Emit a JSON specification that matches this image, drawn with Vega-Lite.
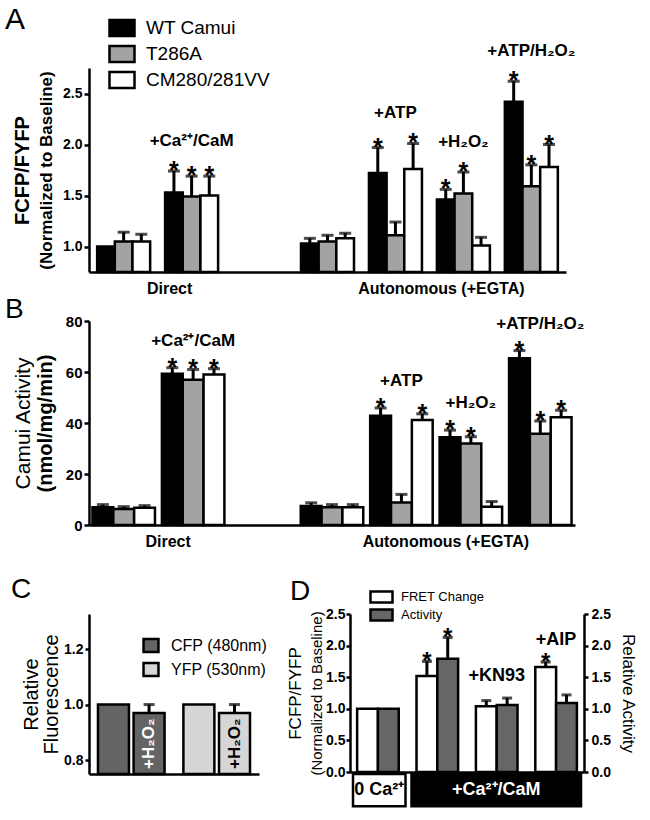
{
  "$schema": "https://vega.github.io/schema/vega-lite/v6.json",
  "background": "white",
  "padding": 5,
  "columns": 1,
  "align": "none",
  "spacing": 27,
  "resolve": {"scale": {"color": "independent", "xOffset": "independent"}},
  "concat": [
    {
      "vconcat": [
        {
          "width": 477,
          "height": 204,
          "title": {"text": "A", "fontSize": 30, "dx": -84, "offset": -16.5},
          "data": {"values": [
            {"cond": "Baseline", "series": "WT Camui", "value": 1.0, "hi": 1.0, "sig": false},
            {"cond": "Baseline", "series": "T286A", "value": 1.05, "hi": 1.14, "sig": false},
            {"cond": "Baseline", "series": "CM280/281VV", "value": 1.05, "hi": 1.12, "sig": false},
            {"cond": "+Ca²⁺/CaM", "series": "WT Camui", "value": 1.53, "hi": 1.74, "sig": true},
            {"cond": "+Ca²⁺/CaM", "series": "T286A", "value": 1.49, "hi": 1.69, "sig": true},
            {"cond": "+Ca²⁺/CaM", "series": "CM280/281VV", "value": 1.5, "hi": 1.69, "sig": true},
            {"cond": "EGTA baseline", "series": "WT Camui", "value": 1.03, "hi": 1.08, "sig": false},
            {"cond": "EGTA baseline", "series": "T286A", "value": 1.05, "hi": 1.11, "sig": false},
            {"cond": "EGTA baseline", "series": "CM280/281VV", "value": 1.08, "hi": 1.13, "sig": false},
            {"cond": "+ATP", "series": "WT Camui", "value": 1.72, "hi": 1.97, "sig": true},
            {"cond": "+ATP", "series": "T286A", "value": 1.11, "hi": 1.24, "sig": false},
            {"cond": "+ATP", "series": "CM280/281VV", "value": 1.76, "hi": 2.01, "sig": true},
            {"cond": "+H₂O₂", "series": "WT Camui", "value": 1.46, "hi": 1.56, "sig": true},
            {"cond": "+H₂O₂", "series": "T286A", "value": 1.52, "hi": 1.73, "sig": true},
            {"cond": "+H₂O₂", "series": "CM280/281VV", "value": 1.01, "hi": 1.09, "sig": false},
            {"cond": "+ATP/H₂O₂", "series": "WT Camui", "value": 2.42, "hi": 2.62, "sig": true},
            {"cond": "+ATP/H₂O₂", "series": "T286A", "value": 1.59, "hi": 1.8, "sig": true},
            {"cond": "+ATP/H₂O₂", "series": "CM280/281VV", "value": 1.78, "hi": 2.0, "sig": true}
          ]},
          "resolve": {"axis": {"y": "independent"}},
          "layer": [
            {
              "encoding": {
                "x": {"field": "cond", "type": "nominal", "title": null, "sort": null,
                  "scale": {"type": "band", "domain": ["Baseline", "+Ca²⁺/CaM", "gap", "EGTA baseline", "+ATP", "+H₂O₂", "+ATP/H₂O₂"], "paddingInner": 0.22, "paddingOuter": 0.12},
                  "axis": {"ticks": false, "labelExpr": "datum.value == '+Ca²⁺/CaM' ? 'Direct' : (datum.value == '+H₂O₂' ? 'Autonomous (+EGTA)' : '')", "labelAngle": 0, "labelFontSize": 16, "labelPadding": 8, "labelOffset": -22, "labelLimit": 0, "labelOverlap": false, "labelBound": false}},
                "xOffset": {"field": "series", "type": "nominal", "sort": null, "scale": {"type": "band", "domain": ["WT Camui", "T286A", "CM280/281VV"], "range": [0, 53], "paddingInner": 0, "paddingOuter": 0}}
              },
              "layer": [
                {
                  "mark": {"type": "bar", "stroke": "black", "strokeWidth": 2.5},
                  "encoding": {
                    "y": {"field": "value", "type": "quantitative", "scale": {"domain": [0.75, 2.75], "zero": false, "nice": false},
                      "axis": {"values": [1, 1.5, 2, 2.5], "format": ".1f", "title": "(Normalized to Baseline)", "titleFontSize": 17, "titleFontWeight": "bold", "titlePadding": 7, "labelFontSize": 14, "labelPadding": 2, "tickSize": 5, "labelOverlap": false}},
                    "y2": {"datum": 0.75},
                    "color": {"field": "series", "type": "nominal", "sort": null,
                      "scale": {"domain": ["WT Camui", "T286A", "CM280/281VV"], "range": ["#000000", "#a3a3a3", "#ffffff"]},
                      "legend": {"orient": "none", "legendX": 23.5, "legendY": -49.5, "title": null, "symbolType": "M-1.5625,-1H1.5625V1H-1.5625Z", "symbolSize": 256, "symbolStrokeColor": "black", "symbolStrokeWidth": 2.5, "symbolOpacity": 1, "labelFontSize": 19, "labelFontWeight": "normal", "labelOffset": 14.5, "rowPadding": -1, "labelLimit": 0}}
                  }
                },
                {
                  "transform": [{"filter": "datum.hi > datum.value"}],
                  "mark": {"type": "rule", "color": "black", "strokeWidth": 3},
                  "encoding": {
                    "y": {"field": "value", "type": "quantitative", "scale": {"domain": [0.75, 2.75], "zero": false, "nice": false}},
                    "y2": {"field": "hi"}
                  }
                },
                {
                  "transform": [{"filter": "datum.hi > datum.value"}],
                  "mark": {"type": "tick", "orient": "horizontal", "color": "black", "thickness": 3, "size": 12},
                  "encoding": {
                    "y": {"field": "hi", "type": "quantitative", "scale": {"domain": [0.75, 2.75], "zero": false, "nice": false}}
                  }
                },
                {
                  "transform": [{"filter": "datum.sig"}],
                  "mark": {"type": "text", "text": "*", "fontSize": 25, "fontWeight": "bold", "baseline": "alphabetic", "dy": 8, "color": "black"},
                  "encoding": {
                    "y": {"field": "hi", "type": "quantitative", "scale": {"domain": [0.75, 2.75], "zero": false, "nice": false}}
                  }
                }
              ]
            },
            {
              "transform": [
                {"filter": "indexof(datum.cond, 'aseline') < 0"},
                {"aggregate": [{"op": "max", "field": "hi", "as": "top"}], "groupby": ["cond"]}
              ],
              "mark": {"type": "text", "fontSize": 17, "fontWeight": "bold", "baseline": "middle", "dy": -30, "color": "black"},
              "encoding": {
                "x": {"field": "cond", "type": "nominal", "title": null, "sort": null,
                  "scale": {"type": "band", "domain": ["Baseline", "+Ca²⁺/CaM", "gap", "EGTA baseline", "+ATP", "+H₂O₂", "+ATP/H₂O₂"], "paddingInner": 0.22, "paddingOuter": 0.12},
                  "axis": {"ticks": false, "labelExpr": "datum.value == '+Ca²⁺/CaM' ? 'Direct' : (datum.value == '+H₂O₂' ? 'Autonomous (+EGTA)' : '')", "labelAngle": 0, "labelFontSize": 16, "labelPadding": 8, "labelOffset": -22, "labelLimit": 0, "labelOverlap": false, "labelBound": false}},
                "y": {"field": "top", "type": "quantitative", "scale": {"domain": [0.75, 2.75], "zero": false, "nice": false},
                  "axis": {"orient": "left", "offset": 57, "title": "FCFP/FYFP", "titleFontSize": 20, "titleFontWeight": "bold", "titlePadding": 0, "labels": false, "ticks": false, "domain": false}},
                "text": {"field": "cond"}
              }
            }
          ]
        },
        {
          "width": 486,
          "height": 204,
          "title": {"text": "B", "fontSize": 28, "dx": -84, "offset": -10},
          "data": {"values": [
            {"cond": "Baseline", "series": "WT Camui", "value": 7.0, "hi": 8.0, "sig": false},
            {"cond": "Baseline", "series": "T286A", "value": 6.3, "hi": 7.2, "sig": false},
            {"cond": "Baseline", "series": "CM280/281VV", "value": 6.8, "hi": 7.6, "sig": false},
            {"cond": "+Ca²⁺/CaM", "series": "WT Camui", "value": 59.3, "hi": 61.7, "sig": true},
            {"cond": "+Ca²⁺/CaM", "series": "T286A", "value": 57.0, "hi": 61.0, "sig": true},
            {"cond": "+Ca²⁺/CaM", "series": "CM280/281VV", "value": 59.0, "hi": 61.3, "sig": true},
            {"cond": "EGTA baseline", "series": "WT Camui", "value": 7.5, "hi": 8.7, "sig": false},
            {"cond": "EGTA baseline", "series": "T286A", "value": 7.0, "hi": 8.0, "sig": false},
            {"cond": "EGTA baseline", "series": "CM280/281VV", "value": 7.0, "hi": 8.0, "sig": false},
            {"cond": "+ATP", "series": "WT Camui", "value": 42.8, "hi": 45.9, "sig": true},
            {"cond": "+ATP", "series": "T286A", "value": 8.8, "hi": 12.0, "sig": false},
            {"cond": "+ATP", "series": "CM280/281VV", "value": 41.2, "hi": 43.6, "sig": true},
            {"cond": "+H₂O₂", "series": "WT Camui", "value": 34.4, "hi": 37.2, "sig": true},
            {"cond": "+H₂O₂", "series": "T286A", "value": 32.0, "hi": 34.6, "sig": true},
            {"cond": "+H₂O₂", "series": "CM280/281VV", "value": 7.2, "hi": 9.2, "sig": false},
            {"cond": "+ATP/H₂O₂", "series": "WT Camui", "value": 65.4, "hi": 68.4, "sig": true},
            {"cond": "+ATP/H₂O₂", "series": "T286A", "value": 35.8, "hi": 40.8, "sig": true},
            {"cond": "+ATP/H₂O₂", "series": "CM280/281VV", "value": 42.3, "hi": 45.0, "sig": true}
          ]},
          "resolve": {"axis": {"y": "independent"}},
          "layer": [
            {
              "encoding": {
                "x": {"field": "cond", "type": "nominal", "title": null, "sort": null,
                  "scale": {"type": "band", "domain": ["Baseline", "+Ca²⁺/CaM", "gap", "EGTA baseline", "+ATP", "+H₂O₂", "+ATP/H₂O₂"], "paddingInner": 0.1, "paddingOuter": 0.05},
                  "axis": {"ticks": false, "labelExpr": "datum.value == '+Ca²⁺/CaM' ? 'Direct' : (datum.value == '+H₂O₂' ? 'Autonomous (+EGTA)' : '')", "labelAngle": 0, "labelFontSize": 16, "labelPadding": 8, "labelOffset": -25, "labelLimit": 0, "labelOverlap": false, "labelBound": false}},
                "xOffset": {"field": "series", "type": "nominal", "sort": null, "scale": {"type": "band", "domain": ["WT Camui", "T286A", "CM280/281VV"], "range": [0, 62.5], "paddingInner": 0, "paddingOuter": 0}}
              },
              "layer": [
                {
                  "mark": {"type": "bar", "stroke": "black", "strokeWidth": 2.5},
                  "encoding": {
                    "y": {"field": "value", "type": "quantitative", "scale": {"domain": [0, 80], "nice": false},
                      "axis": {"values": [0, 20, 40, 60, 80], "format": "d", "title": "(nmol/mg/min)", "titleFontSize": 20, "titleFontWeight": "bold", "titlePadding": 10, "labelFontSize": 15, "labelPadding": 2, "tickSize": 5, "labelOverlap": false}},
                    "y2": {"datum": 0},
                    "color": {"field": "series", "type": "nominal", "sort": null,
                      "scale": {"domain": ["WT Camui", "T286A", "CM280/281VV"], "range": ["#000000", "#a3a3a3", "#ffffff"]},
                      "legend": null}
                  }
                },
                {
                  "transform": [{"filter": "datum.hi > datum.value"}],
                  "mark": {"type": "rule", "color": "black", "strokeWidth": 3},
                  "encoding": {
                    "y": {"field": "value", "type": "quantitative", "scale": {"domain": [0, 80], "nice": false}},
                    "y2": {"field": "hi"}
                  }
                },
                {
                  "transform": [{"filter": "datum.hi > datum.value"}],
                  "mark": {"type": "tick", "orient": "horizontal", "color": "black", "thickness": 3, "size": 12},
                  "encoding": {
                    "y": {"field": "hi", "type": "quantitative", "scale": {"domain": [0, 80], "nice": false}}
                  }
                },
                {
                  "transform": [{"filter": "datum.sig"}],
                  "mark": {"type": "text", "text": "*", "fontSize": 25, "fontWeight": "bold", "baseline": "alphabetic", "dy": 8, "color": "black"},
                  "encoding": {
                    "y": {"field": "hi", "type": "quantitative", "scale": {"domain": [0, 80], "nice": false}}
                  }
                }
              ]
            },
            {
              "transform": [
                {"filter": "indexof(datum.cond, 'aseline') < 0"},
                {"aggregate": [{"op": "max", "field": "hi", "as": "top"}], "groupby": ["cond"]}
              ],
              "mark": {"type": "text", "fontSize": 17, "fontWeight": "bold", "baseline": "middle", "dy": -27, "color": "black"},
              "encoding": {
                "x": {"field": "cond", "type": "nominal", "title": null, "sort": null,
                  "scale": {"type": "band", "domain": ["Baseline", "+Ca²⁺/CaM", "gap", "EGTA baseline", "+ATP", "+H₂O₂", "+ATP/H₂O₂"], "paddingInner": 0.1, "paddingOuter": 0.05},
                  "axis": {"ticks": false, "labelExpr": "datum.value == '+Ca²⁺/CaM' ? 'Direct' : (datum.value == '+H₂O₂' ? 'Autonomous (+EGTA)' : '')", "labelAngle": 0, "labelFontSize": 16, "labelPadding": 8, "labelOffset": -25, "labelLimit": 0, "labelOverlap": false, "labelBound": false}},
                "y": {"field": "top", "type": "quantitative", "scale": {"domain": [0, 80], "nice": false},
                  "axis": {"orient": "left", "offset": 56, "title": "Camui Activity", "titleFontSize": 21, "titleFontWeight": "normal", "titlePadding": 0, "labels": false, "ticks": false, "domain": false}},
                "text": {"field": "cond"}
              }
            }
          ]
        }
      ],
      "spacing": 0,
      "resolve": {"scale": {"color": "independent", "xOffset": "independent"}}
    },
    {
      "hconcat": [
        {
          "width": 170,
          "height": 160,
          "title": {"text": "C", "fontSize": 28, "dx": -78, "offset": 10},
          "data": {"values": [
            {"channel": "CFP (480nm)", "treat": "Control", "value": 1.0, "hi": 1.0},
            {"channel": "CFP (480nm)", "treat": "+H₂O₂", "value": 0.97, "hi": 1.0},
            {"channel": "YFP (530nm)", "treat": "Control", "value": 1.0, "hi": 1.0},
            {"channel": "YFP (530nm)", "treat": "+H₂O₂", "value": 0.97, "hi": 1.0}
          ]},
          "encoding": {
            "x": {"field": "channel", "type": "nominal", "title": null, "sort": null,
              "scale": {"type": "band", "domain": ["CFP (480nm)", "YFP (530nm)"], "paddingInner": 0.22, "paddingOuter": 0.105},
              "axis": {"labels": false, "ticks": false, "title": null}},
            "xOffset": {"field": "treat", "type": "nominal", "sort": null, "scale": {"type": "band", "domain": ["Control", "+H₂O₂"], "range": [0, 66.6], "paddingInner": 0.13, "paddingOuter": 0}}
          },
          "layer": [
            {
              "mark": {"type": "bar", "stroke": "black", "strokeWidth": 2.5},
              "encoding": {
                "y": {"field": "value", "type": "quantitative", "scale": {"domain": [0.75, 1.326], "zero": false, "nice": false},
                  "axis": {"values": [0.8, 1.0, 1.2], "format": ".1f", "title": ["Relative", "Fluorescence"], "titleFontSize": 20, "titleFontWeight": "normal", "titleLineHeight": 20, "titlePadding": 2, "labelFontSize": 14, "labelPadding": 2, "tickSize": 4, "labelOverlap": false}},
                "y2": {"datum": 0.75},
                "color": {"field": "channel", "type": "nominal", "sort": null,
                  "scale": {"domain": ["CFP (480nm)", "YFP (530nm)"], "range": ["#646464", "#d6d6d6"]},
                  "legend": {"orient": "none", "legendX": 54, "legendY": 23.5, "title": null, "symbolType": "M-1.15,-1H1.15V1H-1.15Z", "symbolSize": 169, "symbolStrokeColor": "black", "symbolStrokeWidth": 2.5, "symbolOpacity": 1, "labelFontSize": 16, "labelFontWeight": "normal", "labelOffset": 12, "rowPadding": 0, "labelLimit": 0}}
              }
            },
            {
              "transform": [{"filter": "datum.hi > datum.value"}],
              "mark": {"type": "rule", "color": "black", "strokeWidth": 3},
              "encoding": {
                "y": {"field": "value", "type": "quantitative", "scale": {"domain": [0.75, 1.326], "zero": false, "nice": false}},
                "y2": {"field": "hi"}
              }
            },
            {
              "transform": [{"filter": "datum.hi > datum.value"}],
              "mark": {"type": "tick", "orient": "horizontal", "color": "black", "thickness": 3, "size": 11},
              "encoding": {
                "y": {"field": "hi", "type": "quantitative", "scale": {"domain": [0.75, 1.326], "zero": false, "nice": false}}
              }
            },
            {
              "transform": [{"filter": "datum.treat == '+H₂O₂'"}],
              "mark": {"type": "text", "angle": 270, "align": "left", "baseline": "middle", "dx": 5, "fontSize": 17, "fontWeight": "bold"},
              "encoding": {
                "y": {"datum": 0.75, "type": "quantitative", "scale": {"domain": [0.75, 1.326], "zero": false, "nice": false}},
                "text": {"field": "treat"},
                "color": {"condition": {"test": "datum.channel == 'CFP (480nm)'", "value": "white"}, "value": "black"}
              }
            }
          ]
        },
        {
          "width": 234,
          "height": 158,
          "title": {"text": "D", "fontSize": 28, "dx": -60, "offset": -16},
          "resolve": {"scale": {"x": "independent"}, "axis": {"y": "independent"}},
          "layer": [
            {
              "data": {"values": [
                {"cond": "0 Ca", "series": "FRET Change", "value": 1.0, "hi": 1.0, "sig": false},
                {"cond": "0 Ca", "series": "Activity", "value": 1.0, "hi": 1.0, "sig": false},
                {"cond": "Ca", "series": "FRET Change", "value": 1.52, "hi": 1.75, "sig": true},
                {"cond": "Ca", "series": "Activity", "value": 1.79, "hi": 2.13, "sig": true},
                {"cond": "+KN93", "series": "FRET Change", "value": 1.04, "hi": 1.13, "sig": false},
                {"cond": "+KN93", "series": "Activity", "value": 1.06, "hi": 1.17, "sig": false},
                {"cond": "+AIP", "series": "FRET Change", "value": 1.66, "hi": 1.74, "sig": true},
                {"cond": "+AIP", "series": "Activity", "value": 1.09, "hi": 1.22, "sig": false}
              ]},
              "resolve": {"axis": {"y": "independent"}},
              "layer": [
                {
                  "encoding": {
                    "x": {"field": "cond", "type": "nominal", "title": null, "sort": null,
                      "scale": {"type": "band", "domain": ["0 Ca", "Ca", "+KN93", "+AIP"], "paddingInner": 0.3, "paddingOuter": 0.12},
                      "axis": {"labels": false, "ticks": false, "title": null}},
                    "xOffset": {"field": "series", "type": "nominal", "sort": null, "scale": {"type": "band", "domain": ["FRET Change", "Activity"], "range": [0, 41.6], "paddingInner": 0, "paddingOuter": 0}}
                  },
                  "layer": [
                    {
                      "mark": {"type": "bar", "stroke": "black", "strokeWidth": 2.5},
                      "encoding": {
                        "y": {"field": "value", "type": "quantitative", "scale": {"domain": [0, 2.5], "nice": false, "zero": false}, "axis": null},
                        "y2": {"datum": 0},
                        "color": {"field": "series", "type": "nominal", "sort": null,
                          "scale": {"domain": ["FRET Change", "Activity"], "range": ["#ffffff", "#666666"]},
                          "legend": {"orient": "none", "legendX": 24.5, "legendY": -24, "title": null, "symbolType": "M-2,-1H2V1H-2Z", "symbolSize": 121, "symbolStrokeColor": "black", "symbolStrokeWidth": 2.5, "symbolOpacity": 1, "labelFontSize": 13, "labelFontWeight": "normal", "labelOffset": 12.5, "rowPadding": -4.5, "labelLimit": 0}}
                      }
                    },
                    {
                      "transform": [{"filter": "datum.hi > datum.value"}],
                      "mark": {"type": "rule", "color": "black", "strokeWidth": 3},
                      "encoding": {
                        "y": {"field": "value", "type": "quantitative", "scale": {"domain": [0, 2.5], "nice": false, "zero": false}, "axis": null},
                        "y2": {"field": "hi"}
                      }
                    },
                    {
                      "transform": [{"filter": "datum.hi > datum.value"}],
                      "mark": {"type": "tick", "orient": "horizontal", "color": "black", "thickness": 3, "size": 10},
                      "encoding": {
                        "y": {"field": "hi", "type": "quantitative", "scale": {"domain": [0, 2.5], "nice": false, "zero": false}, "axis": null}
                      }
                    },
                    {
                      "transform": [{"filter": "datum.sig"}],
                      "mark": {"type": "text", "text": "*", "fontSize": 24, "fontWeight": "bold", "baseline": "alphabetic", "dy": 8, "color": "black"},
                      "encoding": {
                        "y": {"field": "hi", "type": "quantitative", "scale": {"domain": [0, 2.5], "nice": false, "zero": false}, "axis": null}
                      }
                    }
                  ]
                },
                {
                  "transform": [
                    {"filter": "datum.cond == '+KN93' || datum.cond == '+AIP'"},
                    {"aggregate": [{"op": "max", "field": "hi", "as": "top"}], "groupby": ["cond"]}
                  ],
                  "mark": {"type": "text", "fontSize": 18, "fontWeight": "bold", "baseline": "middle", "dy": -22, "color": "black"},
                  "encoding": {
                    "x": {"field": "cond", "type": "nominal", "title": null, "sort": null,
                      "scale": {"type": "band", "domain": ["0 Ca", "Ca", "+KN93", "+AIP"], "paddingInner": 0.3, "paddingOuter": 0.12},
                      "axis": {"labels": false, "ticks": false, "title": null}},
                    "y": {"field": "top", "type": "quantitative", "scale": {"domain": [0, 2.5], "nice": false, "zero": false},
                      "axis": {"orient": "left", "values": [0, 0.5, 1, 1.5, 2, 2.5], "format": ".1f", "title": "(Normalized to Baseline)", "titleFontSize": 15, "titleFontWeight": "normal", "titlePadding": 1, "labelFontSize": 14, "labelPadding": 1, "tickSize": 4, "labelOverlap": false}},
                    "text": {"field": "cond"}
                  }
                }
              ]
            },
            {
              "data": {"values": [
                {"label": "0 Ca²⁺", "start": 0, "end": 1, "mid": 0.5},
                {"label": "+Ca²⁺/CaM", "start": 1, "end": 4, "mid": 2.5}
              ]},
              "resolve": {"axis": {"y": "independent"}},
              "layer": [
                {
                  "mark": {"type": "rect", "stroke": "black", "strokeWidth": 2.5, "xOffset": 3, "x2Offset": -3},
                  "encoding": {
                    "x": {"field": "start", "type": "quantitative", "scale": {"domain": [0, 4], "nice": false, "zero": false}, "axis": null},
                    "x2": {"field": "end"},
                    "y": {"datum": -0.03, "type": "quantitative", "scale": {"domain": [0, 2.5], "nice": false, "zero": false},
                      "axis": {"orient": "right", "values": [0, 0.5, 1, 1.5, 2, 2.5], "format": ".1f", "title": "Relative Activity", "titleFontSize": 17, "titleFontWeight": "normal", "titlePadding": 8, "labelFontSize": 14, "labelPadding": 3, "tickSize": 4, "labelOverlap": false}},
                    "y2": {"datum": -0.54},
                    "fill": {"condition": {"test": "datum.label == '0 Ca²⁺'", "value": "white"}, "value": "black"}
                  }
                },
                {
                  "mark": {"type": "text", "fontSize": 18, "fontWeight": "bold", "baseline": "middle", "align": "center"},
                  "encoding": {
                    "x": {"field": "mid", "type": "quantitative", "scale": {"domain": [0, 4], "nice": false, "zero": false}, "axis": null},
                    "y": {"datum": -0.29, "type": "quantitative", "scale": {"domain": [0, 2.5], "nice": false, "zero": false},
                      "axis": {"orient": "left", "offset": 46, "title": "FCFP/FYFP", "titleFontSize": 17, "titleFontWeight": "normal", "titlePadding": 0, "labels": false, "ticks": false, "domain": false}},
                    "text": {"field": "label"},
                    "color": {"condition": {"test": "datum.label == '0 Ca²⁺'", "value": "black"}, "value": "white"}
                  }
                }
              ]
            }
          ]
        }
      ],
      "spacing": 18,
      "resolve": {"scale": {"color": "independent", "xOffset": "independent"}}
    }
  ],
  "config": {
    "font": "Liberation Sans",
    "view": {"stroke": null},
    "axis": {"domainColor": "black", "domainWidth": 2.5, "tickColor": "black", "tickWidth": 2.5, "tickSize": 5, "labelColor": "black", "labelFont": "Liberation Sans", "labelFontWeight": "bold", "titleColor": "black", "titleFont": "Liberation Sans", "grid": false},
    "legend": {"padding": 0, "labelColor": "black", "labelFont": "Liberation Sans"},
    "title": {"color": "black", "font": "Liberation Sans", "fontWeight": "normal", "anchor": "start", "frame": "group"},
    "text": {"font": "Liberation Sans", "color": "black"}
  }
}
